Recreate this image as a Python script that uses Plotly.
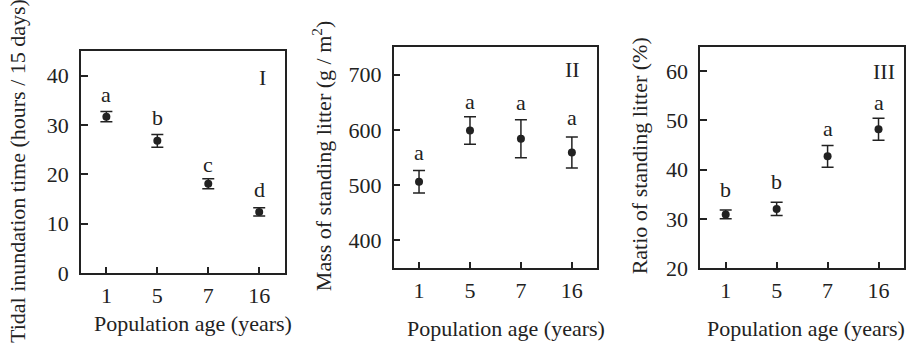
import plotly.graph_objects as go

W, H = 906, 353

ages = ["1", "5", "7", "16"]

tidal_mean = [31.7, 26.8, 18.1, 12.4]
tidal_err = [1.05, 1.3, 1.0, 0.85]
tidal_letters = ["a", "b", "c", "d"]
tidal_letter_y = [36.1, 31.5, 22.1, 16.9]

mass_mean = [506, 599, 584, 559]
mass_err = [20.5, 25, 34.5, 28]
mass_letters = ["a", "a", "a", "a"]
mass_letter_y = [559, 652, 649, 622]

ratio_mean = [30.9, 32.0, 42.7, 48.2]
ratio_err = [0.9, 1.35, 2.2, 2.25]
ratio_letters = ["b", "b", "a", "a"]
ratio_letter_y = [35.9, 37.6, 48.3, 53.6]

tidal_ticks = [0, 10, 20, 30, 40]
mass_ticks = [400, 500, 600, 700]
ratio_ticks = [20, 30, 40, 50, 60]

INK = "#222222"
FONT = "'Liberation Serif', 'Times New Roman', Times, serif"
FS = 22

def px_x(p):
    return p / W

def px_y(p):
    return 1 - p / H

fig = go.Figure()

panels = [
    (tidal_mean, tidal_err, tidal_letters, tidal_letter_y, "x", "y"),
    (mass_mean, mass_err, mass_letters, mass_letter_y, "x2", "y2"),
    (ratio_mean, ratio_err, ratio_letters, ratio_letter_y, "x3", "y3"),
]

annotations = []
for mean, err, letters, ly, xa, ya in panels:
    fig.add_trace(go.Scatter(
        x=ages, y=mean, mode="markers", xaxis=xa, yaxis=ya,
        marker=dict(size=8, color=INK),
        error_y=dict(type="data", array=err, visible=True, color=INK,
                     thickness=1.5, width=6),
        showlegend=False, hoverinfo="skip"))
    for i, (t, yv) in enumerate(zip(letters, ly)):
        annotations.append(dict(x=i, y=yv, xref=xa, yref=ya, text=t,
                                showarrow=False, xanchor="center", yanchor="middle",
                                font=dict(family=FONT, size=FS, color=INK)))

# Panel numerals
for txt, xr, yr, px, py in [("I", "x domain", "y domain", 0.892, 0.879),
                            ("II", "x2 domain", "y2 domain", 0.88, 0.897),
                            ("III", "x3 domain", "y3 domain", 0.903, 0.886)]:
    annotations.append(dict(x=px, y=py, xref=xr, yref=yr,
                            text=txt, showarrow=False, xanchor="center", yanchor="middle",
                            font=dict(family=FONT, size=FS, color=INK)))

# Axis titles
titles = [
    ("Tidal inundation time (hours / 15 days)", 18, 177.5, -90),
    ("Mass of standing litter (g / m<sup>2</sup>)", 322, 162.5, -90),
    ("Ratio of standing litter (%)", 640, 162, -90),
    ("Population age (years)", 193.3, 336, 0),
    ("Population age (years)", 506.7, 341, 0),
    ("Population age (years)", 807, 341, 0),
]
for txt, px, py, ang in titles:
    annotations.append(dict(x=px_x(px), y=px_y(py), xref="paper", yref="paper",
                            text=txt, showarrow=False, textangle=ang,
                            xanchor="center", yanchor="middle",
                            font=dict(family=FONT, size=FS, color=INK)))

def xaxis(dom, anchor):
    return dict(domain=dom, anchor=anchor, type="category", categoryarray=ages,
                categoryorder="array", range=[-0.5, 3.5], showline=True, mirror=True,
                linecolor=INK, linewidth=1.5, ticks="inside", ticklen=6, tickwidth=1.5,
                tickcolor=INK, showgrid=False, zeroline=False, ticklabelstandoff=2,
                tickfont=dict(family=FONT, size=FS, color=INK))

def yaxis(dom, anchor, rng, tv):
    return dict(domain=dom, anchor=anchor, range=rng, tickvals=tv, showline=True,
                mirror=True, linecolor=INK, linewidth=1.5, ticks="inside", ticklen=7,
                tickwidth=1.5, tickcolor=INK, showgrid=False, zeroline=False,
                ticklabelstandoff=6, tickfont=dict(family=FONT, size=FS, color=INK))

fig.update_layout(
    width=W, height=H, margin=dict(l=0, r=0, t=0, b=0),
    paper_bgcolor="white", plot_bgcolor="white",
    xaxis=xaxis([px_x(81), px_x(285)], "y"),
    yaxis=yaxis([px_y(283.5), px_y(53)], "x", [0, 45], tidal_ticks),
    xaxis2=xaxis([px_x(394), px_x(598)], "y2"),
    yaxis2=yaxis([px_y(278), px_y(49)], "x2", [350, 750], mass_ticks),
    xaxis3=xaxis([px_x(701), px_x(905)], "y3"),
    yaxis3=yaxis([px_y(278.3), px_y(48.3)], "x3", [20, 65], ratio_ticks),
    annotations=annotations,
    font=dict(family=FONT, size=FS, color=INK),
)

fig.write_html("out.html")
